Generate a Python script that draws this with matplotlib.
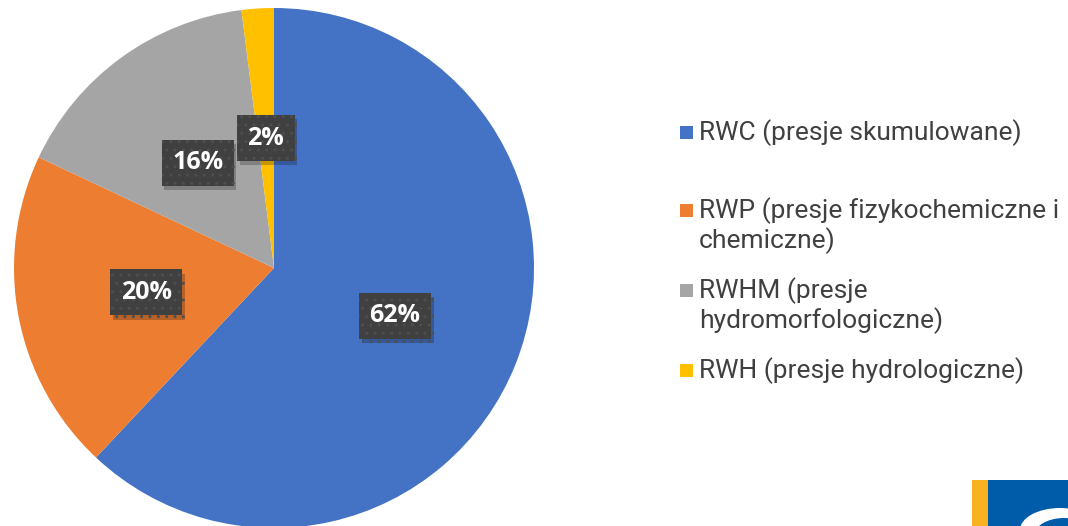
import matplotlib.pyplot as plt
import matplotlib.patheffects as pe
from matplotlib.patches import Rectangle, Ellipse

labels = ['RWC (presje skumulowane)',
          'RWP (presje fizykochemiczne i\nchemiczne)',
          'RWHM (presje\nhydromorfologiczne)',
          'RWH (presje hydrologiczne)']
shares = [62, 20, 16, 2]
colors = ['#4472C4', '#ED7D31', '#A5A5A5', '#FFC000']

W, H = 1068, 526
fig = plt.figure(figsize=(W / 100, H / 100), dpi=100)

# pie axes: centre at (274, 268) px from top-left, radius 260 px
cx, cy, r = 274, 268, 260
ax = fig.add_axes([(cx - r) / W, (H - cy - r) / H, 2 * r / W, 2 * r / H])
wedges, texts, autotexts = ax.pie(
    shares, colors=colors, startangle=90, counterclock=False,
    autopct='%d%%', pctdistance=0.5, radius=1,
    wedgeprops=dict(edgecolor='none', linewidth=0))
ax.set_xlim(-1, 1)
ax.set_ylim(-1, 1)
ax.set_aspect('equal')

for t in autotexts:
    t.set_fontfamily('Open Sans')
    t.set_fontweight('bold')
    t.set_fontsize(18)
    t.set_color('white')
    t.set_bbox(dict(boxstyle='square,pad=0.42', facecolor='#404040',
                    edgecolor='#4e4e4e', linewidth=0, hatch='..'))
    t.get_bbox_patch().set_path_effects(
        [pe.SimplePatchShadow(offset=(2, -3), shadow_rgbFace='black', alpha=0.22), pe.Normal()])

# legend drawn by hand
legend_y = [133, 211, 291, 371]
for lab, col, y in zip(labels, colors, legend_y):
    fig.patches.append(Rectangle((680 / W, (H - y - 6) / H), 13 / W, 13 / H,
                                 transform=fig.transFigure, facecolor=col,
                                 edgecolor='none'))
    fig.text(699 / W, (H - y + 14) / H, lab, fontfamily='Roboto', fontsize=19,
             color='#404040', va='top', ha='left', linespacing=1.18)

# logo fragment in the corner
fig.patches.append(Rectangle((972 / W, 0), 16 / W, 46 / H, transform=fig.transFigure,
                             facecolor='#F9B21F', edgecolor='none'))
fig.patches.append(Rectangle((988 / W, 0), 80 / W, 46 / H, transform=fig.transFigure,
                             facecolor='#005CA9', edgecolor='none'))
fig.patches.append(Ellipse((1060 / W, -4 / H), 80 / W, 44 / H, transform=fig.transFigure,
                           facecolor='white', edgecolor='none'))
fig.patches.append(Ellipse((1064 / W, -10 / H), 60 / W, 36 / H, transform=fig.transFigure,
                           facecolor='#005CA9', edgecolor='none'))

fig.savefig('out.png', dpi=100)
